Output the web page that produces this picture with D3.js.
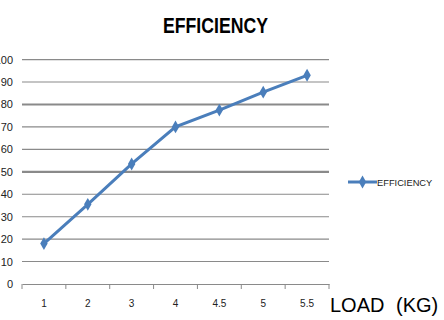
<!DOCTYPE html>
<html>
<head>
<meta charset="utf-8">
<script src="https://cdn.jsdelivr.net/npm/d3@7"></script>
<style>
  body { margin: 0; background: #fff; }
  svg { display: block; font-family: Arial, "Liberation Sans", sans-serif; }
</style>
</head>
<body>
<div class="chart"></div>
<script>
const loads = ["1", "2", "3", "4", "4.5", "5", "5.5"];
const efficiency = [18, 35.5, 53.5, 70, 77.5, 85.5, 93];
const yTicks = [0, 10, 20, 30, 40, 50, 60, 70, 80, 90, 100];

const width = 444, height = 320;
const plot = { left: 22, right: 329, top: 59.6, bottom: 284 };

const svg = d3.select('.chart')
    .append('svg')
    .attr('width', width)
    .attr('height', height);

const xScale = d3.scaleBand()
    .domain(loads)
    .range([plot.left, plot.right]);

const yScale = d3.scaleLinear()
    .domain([0, 100])
    .range([plot.bottom, plot.top]);

// gridlines (80 and 50 look heavier in the original)
svg.append('g')
    .selectAll('line')
    .data(yTicks.filter(d => d > 0))
    .enter()
    .append('line')
    .attr('x1', plot.left)
    .attr('x2', plot.right)
    .attr('y1', d => yScale(d))
    .attr('y2', d => yScale(d))
    .attr('stroke', '#8a8a8a')
    .attr('stroke-width', d => (d === 80 || d === 50) ? 2.2 : 1.1);

// y labels
svg.append('g')
    .selectAll('text')
    .data(yTicks)
    .enter()
    .append('text')
    .attr('x', 13)
    .attr('y', d => yScale(d) + 4)
    .attr('text-anchor', 'end')
    .style('font-size', '11px')
    .style('fill', '#222')
    .text(d => d);

// x axis
const xAxis = d3.axisBottom(xScale).tickSize(0).tickPadding(16);
const gx = svg.append('g')
    .attr('transform', `translate(0, ${plot.bottom})`)
    .call(xAxis);
gx.select('.domain').attr('stroke', '#8a8a8a').attr('stroke-width', 1.1);
gx.selectAll('text').style('font-size', '10px').style('fill', '#222')
    .style('font-family', 'Arial, sans-serif');

// tick marks on band boundaries
const bounds = loads.map(d => xScale(d)).concat([plot.right]);
gx.selectAll('.bound')
    .data(bounds)
    .enter()
    .append('line')
    .attr('class', 'bound')
    .attr('x1', d => d).attr('x2', d => d)
    .attr('y1', 0).attr('y2', 5)
    .attr('stroke', '#8a8a8a');

const blue = '#4a7ebb';
const cx = d => xScale(d) + xScale.bandwidth() / 2;

const line = d3.line()
    .x((d, i) => cx(loads[i]))
    .y(d => yScale(d));

svg.append('path')
    .datum(efficiency)
    .attr('d', line)
    .attr('fill', 'none')
    .attr('stroke', blue)
    .attr('stroke-width', 3);

const diamond = d3.symbol().type(d3.symbolDiamond).size(48);
svg.append('g')
    .selectAll('path')
    .data(efficiency)
    .enter()
    .append('path')
    .attr('d', diamond)
    .attr('transform', (d, i) => `translate(${cx(loads[i])}, ${yScale(d)})`)
    .attr('fill', blue);

// title
svg.append('text')
    .attr('x', 163)
    .attr('y', 33)
    .attr('textLength', 105)
    .attr('lengthAdjust', 'spacingAndGlyphs')
    .style('font-weight', 'bold')
    .style('font-size', '22px')
    .style('fill', '#000')
    .text('EFFICIENCY');

// axis title
svg.append('text')
    .attr('x', 330)
    .attr('y', 312)
    .style('font-size', '20px')
    .style('fill', '#000')
    .text('LOAD');
svg.append('text')
    .attr('x', 396)
    .attr('y', 312)
    .style('font-size', '20px')
    .style('fill', '#000')
    .text('(KG)');

// legend
const lg = svg.append('g').attr('transform', 'translate(348, 182)');
lg.append('line')
    .attr('x1', 0).attr('x2', 29)
    .attr('stroke', blue).attr('stroke-width', 3);
lg.append('path')
    .attr('d', diamond)
    .attr('transform', 'translate(14.5, 0)')
    .attr('fill', blue);
lg.append('text')
    .attr('x', 29)
    .attr('y', 3.5)
    .style('font-size', '9.3px')
    .style('fill', '#222')
    .text('EFFICIENCY');
</script>
</body>
</html>
